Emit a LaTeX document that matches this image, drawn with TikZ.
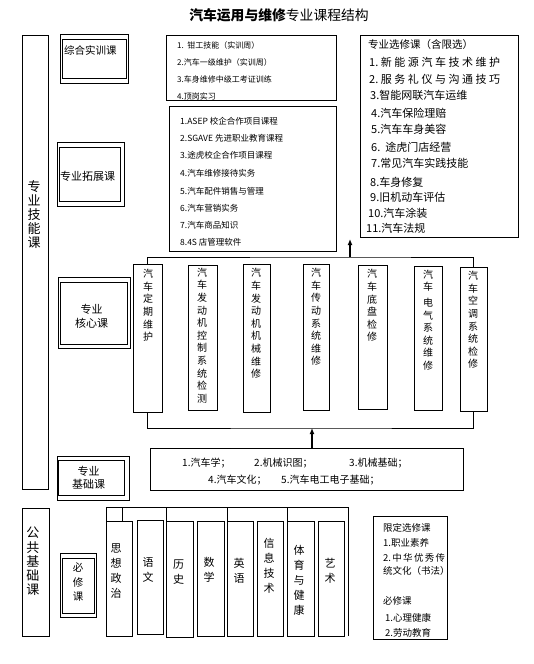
\documentclass[tikz,border=0pt]{standalone}
\usepackage{fontspec}
\setmainfont{Noto Sans CJK SC}
\usetikzlibrary{fit,arrows.meta}

\tikzset{
  box/.style={draw, line width=.8pt, inner sep=0pt},
  wire/.style={draw, line width=.8pt},
  arr/.style={draw, line width=1.2pt, -{Latex[length=6pt,width=5pt]}},
  small/.style={inner sep=0pt, anchor=west, font=\fontsize{8}{10}\selectfont},
  item/.style={inner sep=0pt, anchor=west, font=\fontsize{8.5}{10}\selectfont},
  elect/.style={inner sep=0pt, anchor=west, font=\fontsize{11}{13}\selectfont},
  basic/.style={inner sep=0pt, anchor=west, font=\fontsize{10}{12}\selectfont},
  label/.style={inner sep=0pt, align=center, font=\fontsize{11}{13.5}\selectfont},
  vcore/.style={inner sep=0pt, align=center, font=\fontsize{10}{12.6}\selectfont},
  vbig/.style={inner sep=0pt, align=center, font=\fontsize{13}{14.2}\selectfont},
  vpub/.style={inner sep=0pt, align=center, font=\fontsize{11}{15}\selectfont},
}

\begin{document}
\begin{tikzpicture}[x=1pt, y=-1pt]
        \useasboundingbox (0,0) rectangle (534,664);
        % Title:
        \node[font=\fontsize{13.8}{16}\selectfont] (title) at (279,15) {\textbf{汽车运用与维修}专业课程结构};

        % Left column:
        \node[box, fit={(22,35) (48,489)}] (skill) {};
        \node[vbig] (skilltxt) at (34,214.5) {专\\业\\技\\能\\课};
        \node[box, fit={(60,34) (128,83)}] (trainout) {};
        \node[box, fit={(62,39) (126,78)}] (train) {};
        \node[label, anchor=west, font=\fontsize{10.5}{12}\selectfont] (traintxt) at (64,50) {综合实训课};
        \node[box, fit={(57,142) (124,206)}] (extout) {};
        \node[box, fit={(59,147) (120,201)}] (ext) {};
        \node[label, anchor=west] (exttxt) at (60,176) {专业拓展课};
        \node[box, fit={(58,277) (130,348)}] (coreout) {};
        \node[box, fit={(60,282) (127,344)}] (core) {};
        \node[label] (coretxt) at (91.5,316.5) {专业\\核心课};
        \node[box, fit={(57,456) (129,500)}] (baseout) {};
        \node[box, fit={(58,460) (124,495)}] (base) {};
        \node[label] (basetxt) at (88.5,478) {专业\\基础课};

        % Practice and extension courses:
        \node[box, fit={(166,35) (336,100)}] (practice) {};
        \node[small] (p1) at (177,45) {1.\ \ 钳工技能（实训周）};
        \node[small] (p2) at (177,62) {2.汽车一级维护（实训周）};
        \node[small] (p3) at (177,79) {3.车身维修中级工考证训练};
        \node[small] (p4) at (177,96) {4.顶岗实习};
        \node[box, fit={(169,106) (336,251)}] (extend) {};
        \node[item] (e1) at (180,121) {1.ASEP 校企合作项目课程};
        \node[item] (e2) at (180,138) {2.SGAVE 先进职业教育课程};
        \node[item] (e3) at (180,155) {3.途虎校企合作项目课程};
        \node[item] (e4) at (180,173) {4.汽车维修接待实务};
        \node[item] (e5) at (180,191) {5.汽车配件销售与管理};
        \node[item] (e6) at (180,208) {6.汽车营销实务};
        \node[item] (e7) at (180,225) {7.汽车商品知识};
        \node[item] (e8) at (180,242) {8.4S 店管理软件};

        % Elective courses:
        \node[box, fit={(360,35) (518,237)}] (elective) {};
        \node[elect, font=\fontsize{10.5}{12}\selectfont] (s0) at (368,45) {专业选修课（含限选）};
        \node[elect] (s1) at (369,62) {\hbox to 131pt{1.\hfil 新\hfil 能\hfil 源\hfil 汽\hfil 车\hfil 技\hfil 术\hfil 维\hfil 护}};
        \node[elect] (s2) at (369,79) {\hbox to 131pt{2.\hfil 服\hfil 务\hfil 礼\hfil 仪\hfil 与\hfil 沟\hfil 通\hfil 技\hfil 巧}};
        \node[elect] (s3) at (370,95) {3.智能网联汽车运维};
        \node[elect] (s4) at (371,113) {4.汽车保险理赔};
        \node[elect] (s5) at (371,129) {5.汽车车身美容};
        \node[elect] (s6) at (371,147) {6.\ \ 途虎门店经营};
        \node[elect] (s7) at (371,163) {7.常见汽车实践技能};
        \node[elect] (s8) at (370,182) {8.车身修复};
        \node[elect] (s9) at (370,197) {9.旧机动车评估};
        \node[elect] (s10) at (368,213) {10.汽车涂装};
        \node[elect] (s11) at (366,228) {11.汽车法规};

        % Core courses:
        \node[box, fit={(133,264) (162,412)}] (cA) {};
        \node[vcore] (cAtxt) at (148,305.5) {汽\\车\\定\\期\\维\\护};
        \node[box, fit={(188,265) (217,410)}] (cB) {};
        \node[vcore] (cBtxt) at (202,335.5) {汽\\车\\发\\动\\机\\控\\制\\系\\统\\检\\测};
        \node[box, fit={(243,264) (270,412)}] (cC) {};
        \node[vcore] (cCtxt) at (256,323.5) {汽\\车\\发\\动\\机\\机\\械\\维\\修};
        \node[box, fit={(303,264) (329,410)}] (cD) {};
        \node[vcore] (cDtxt) at (316,317) {汽\\车\\传\\动\\系\\统\\维\\修};
        \node[box, fit={(358,265) (387,409)}] (cE) {};
        \node[vcore] (cEtxt) at (372,305.5) {汽\\车\\底\\盘\\检\\修};
        \node[box, fit={(414,266) (442,410)}] (cF) {};
        \node[vcore] (cFtxt) at (428,320) {汽\\车\\[3pt]电\\气\\系\\统\\维\\修};
        \node[box, fit={(460,267) (487,411)}] (cG) {};
        \node[vcore] (cGtxt) at (473,320) {汽\\车\\空\\调\\系\\统\\检\\修};
        \coordinate (topbar) at (350,257);
        \coordinate (toptip) at (350,239);
        \draw[wire] (cA.north) |- (topbar) -| (cG.north);
        \draw[arr] (topbar) -- (toptip);
        \coordinate (botbar) at (312,428);
        \draw[wire] (cA.south) |- (botbar) -| (cG.south);

        % Basic courses:
        \node[box, fit={(150,448) (463,490)}] (found) {};
        \draw[arr] (found.north -| botbar) -- (botbar);
        \node[basic] (b1) at (182,463) {1.汽车学；};
        \node[basic] (b2) at (254,463) {2.机械识图；};
        \node[basic] (b3) at (349,463) {3.机械基础；};
        \node[basic] (b4) at (208,480) {4.汽车文化；};
        \node[basic] (b5) at (281,480) {5.汽车电工电子基础；};

        % Public courses:
        \node[box, fit={(22,508) (49,636)}] (public) {};
        \node[vbig] (publictxt) at (33,561.5) {公\\共\\基\\础\\课};
        \node[box, fit={(60,553) (96,617)}] (reqout) {};
        \node[box, fit={(62,558) (94,613)}] (req) {};
        \node[vcore, font=\fontsize{10.5}{14.5}\selectfont] (reqtxt) at (78,582.5) {必\\修\\课};
        \draw[wire] (106,507) -- (348,507);
        \draw[wire] (106,507) -- (106,636);
        \draw[wire] (122,507) -- (122,521);
        \draw[wire] (166,507) -- (166,637);
        \draw[wire] (227,507) -- (227,636);
        \draw[wire] (287,507) -- (287,636);
        \draw[wire] (348,507) -- (348,636);
        \node[box, fit={(106,521) (132,636)}] (pol) {};
        \node[vpub] (poltxt) at (116,571) {思\\想\\政\\治};
        \node[box, fit={(137,520) (163,634)}] (chn) {};
        \node[vpub] (chntxt) at (148,569.5) {语\\文};
        \node[box, fit={(166,521) (193,637)}] (his) {};
        \node[vpub] (histxt) at (178.5,572) {历\\史};
        \node[box, fit={(197,521) (224,636)}] (math) {};
        \node[vpub] (mathtxt) at (209,570) {数\\学};
        \node[box, fit={(227,521) (253,636)}] (eng) {};
        \node[vpub] (engtxt) at (239,570.5) {英\\语};
        \node[box, fit={(257,521) (283,636)}] (info) {};
        \node[vpub] (infotxt) at (269,566) {信\\息\\技\\术};
        \node[box, fit={(287,521) (314,636)}] (sport) {};
        \node[vpub] (sporttxt) at (299,580) {体\\育\\与\\健\\康};
        \node[box, fit={(318,521) (344,636)}] (art) {};
        \node[vpub] (arttxt) at (330,570.5) {艺\\术};

        % Limited electives:
        \node[box, fit={(373,516) (447,639)}] (limit) {};
        \node[basic, font=\fontsize{9.5}{12}\selectfont] (l0) at (383,528) {限定选修课};
        \node[basic, font=\fontsize{9.5}{12}\selectfont] (l1) at (383,543) {1.职业素养};
        \node[basic, font=\fontsize{9.5}{12}\selectfont] (l2) at (383,558) {\hbox to 62pt{2.\hfil 中\hfil 华\hfil 优\hfil 秀\hfil 传}};
        \node[basic, font=\fontsize{9.5}{12}\selectfont] (l3) at (383,571) {统文化（书法）};
        \node[basic, font=\fontsize{9.5}{12}\selectfont] (l4) at (383,601) {必修课};
        \node[basic, font=\fontsize{9.5}{12}\selectfont] (l5) at (385,618) {1.心理健康};
        \node[basic, font=\fontsize{9.5}{12}\selectfont] (l6) at (385,633) {2.劳动教育};
\end{tikzpicture}
\end{document}
